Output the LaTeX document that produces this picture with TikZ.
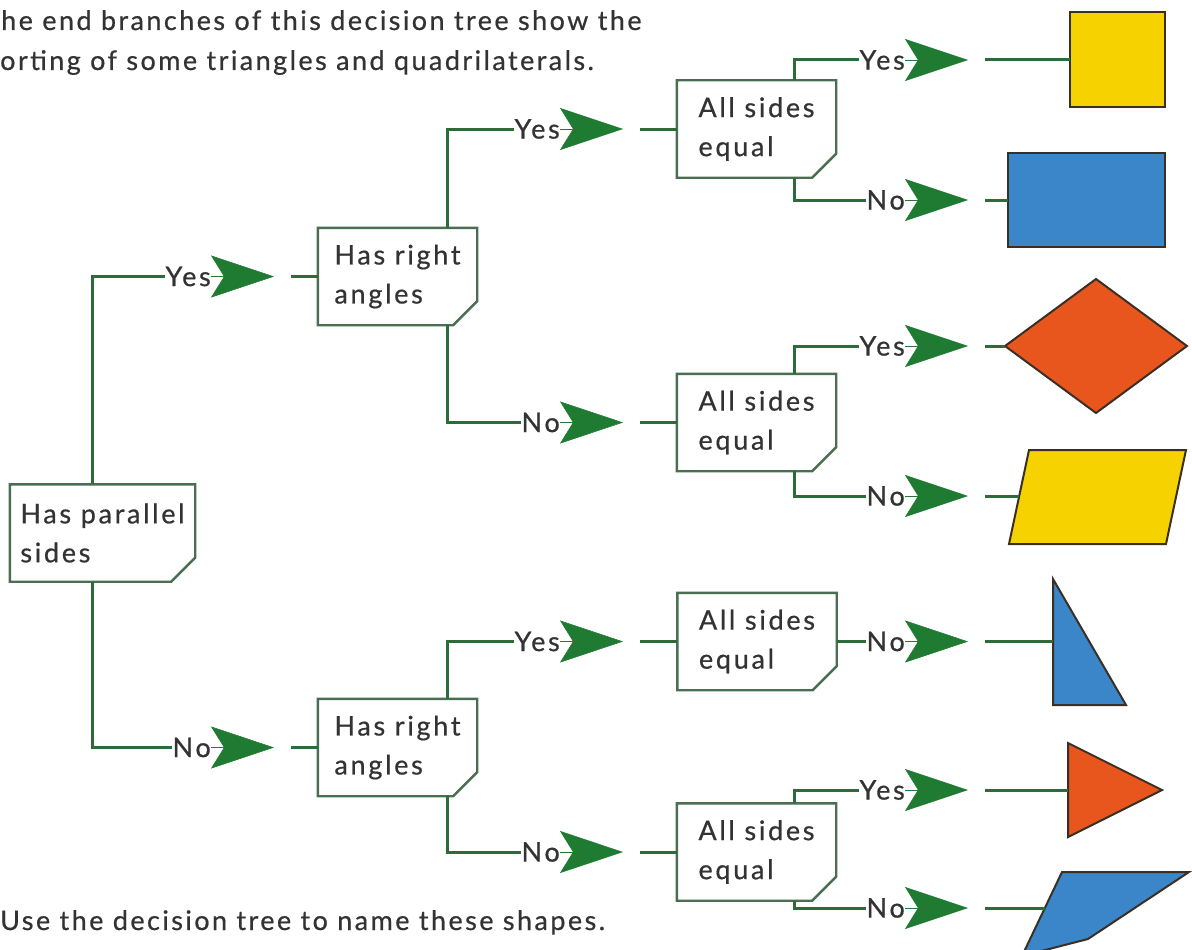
\documentclass[tikz,border=0pt]{standalone}
\usepackage{fontspec}
\setmainfont{Lato}[LetterSpace=10, FakeBold=0.6]
\newfontfamily\headfont{Lato}[LetterSpace=9, FakeBold=0.6]
\usepackage{tikz}
\usetikzlibrary{arrows.meta}

\definecolor{linegreen}{HTML}{2E6B3A}
\definecolor{dartgreen}{HTML}{1F7A32}
\definecolor{boxline}{HTML}{4A6E52}
\definecolor{inkgrey}{HTML}{333333}
\definecolor{shapeyellow}{HTML}{F5D200}
\definecolor{shapeblue}{HTML}{3A86C8}
\definecolor{shapeorange}{HTML}{E8561E}
\definecolor{edgebrown}{HTML}{3A2F25}

\begin{document}
\begin{tikzpicture}[x=1pt,y=-1pt,
  qbox/.style={minimum width=159pt, minimum height=97pt, inner sep=0pt, align=left, fill=white, text=inkgrey, font=\fontsize{27}{39}\selectfont},
  ans/.style={inner sep=0pt, anchor=east, text=inkgrey, font=\fontsize{27}{30}\selectfont},
  note/.style={inner sep=0pt, anchor=base west, text=inkgrey, font=\headfont\fontsize{27}{40}\selectfont},
  link/.style={draw=linegreen, line width=3pt},
  boxedge/.style={draw=boxline, line width=2.4pt},
  dart/.style={draw=dartgreen, line width=0.5pt, -{Stealth[length=63pt, width=42pt, inset=13pt, fill=dartgreen]}},
  shapeedge/.style={draw=edgebrown, line width=2pt, line join=miter}]

\useasboundingbox (0,0) rectangle (1192,950);
\clip (0,0) rectangle (1192,950);

% heading and footing
\node[note] (head1) at (1,30) {he end branches of this decision tree show the};
\node[note] (head2) at (0,70) {orting of some triangles and quadrilaterals.};
\node[note] (foot) at (0,930) {Use the decision tree to name these shapes.};

% columns for labels, dart tips and dashes
\coordinate (lA) at (211,0); \coordinate (kA) at (274,0); \coordinate (dA) at (291,0);
\coordinate (lB) at (560,0); \coordinate (kB) at (623,0); \coordinate (dB) at (640,0);
\coordinate (lC) at (905,0); \coordinate (kC) at (968,0); \coordinate (dC) at (985,0);

% question boxes
\node[qbox, minimum width=185pt] (A) at (102.5,533) {Has parallel\\sides};
\node[qbox] (B1) at (397.5,276.5) {Has right\\angles};
\node[qbox] (B2) at (397.5,747.5) {Has right\\angles};
\node[qbox] (C1) at (756.5,129) {All sides\\equal};
\node[qbox] (C2) at (756.5,422.5) {All sides\\equal};
\node[qbox] (C3) at (757,641.5) {All sides\\equal};
\node[qbox] (C4) at (756.5,852) {All sides\\equal};
\foreach \b in {A,B1,B2,C1,C2,C3,C4}
  \draw[boxedge] (\b.north west) -- (\b.north east) -- ([yshift=24pt]\b.south east)
    -- ([xshift=-24pt]\b.south east) -- (\b.south west) -- cycle;

% end shapes
\coordinate (sq) at (1070,60);
\coordinate (ob) at (1008,200);
\coordinate (rh) at (1005,346);
\coordinate (pg) at (1019,496);
\coordinate (rt) at (1053,641.5);
\coordinate (eq) at (1068,790);
\coordinate (sc) at (1045,908);
\filldraw[shapeedge, fill=shapeyellow] (1070,12) rectangle (1165,107);
\filldraw[shapeedge, fill=shapeblue] (1008,153) rectangle (1165,247);
\filldraw[shapeedge, fill=shapeorange] (rh) -- (1096,279) -- (1187,346) -- (1096,413) -- cycle;
\filldraw[shapeedge, fill=shapeyellow] (1029,450) -- (1186,450) -- (1166,544) -- (1009,544) -- cycle;
\filldraw[shapeedge, fill=shapeblue] (1053,579) -- (1126,705) -- (1053,705) -- cycle;
\filldraw[shapeedge, fill=shapeorange] (1068,743) -- (1162,790) -- (1068,837) -- cycle;
\filldraw[shapeedge, fill=shapeblue] (1062,872) -- (1189,872) -- (1088,939) -- (1022,956) -- cycle;

% first split
\node[ans] (yA) at (lA |- B1.west) {Yes};
\node[ans] (nA) at (lA |- B2.west) {No};
\draw[link] ([xshift=-10pt]A.north) |- (yA.west);
\draw[link] ([xshift=-10pt]A.south) |- (nA.west);
\draw[dart] (yA.east) -- (kA |- yA.east);
\draw[dart] (nA.east) -- (kA |- nA.east);
\draw[link] (dA |- B1.west) -- (B1.west);
\draw[link] (dA |- B2.west) -- (B2.west);

% second split
\node[ans] (yB1) at (lB |- C1.west) {Yes};
\node[ans] (nB1) at (lB |- C2.west) {No};
\node[ans] (yB2) at (lB |- C3.west) {Yes};
\node[ans] (nB2) at (lB |- C4.west) {No};
\draw[link] ([xshift=50pt]B1.north) |- (yB1.west);
\draw[link] ([xshift=50pt]B1.south) |- (nB1.west);
\draw[link] ([xshift=50pt]B2.north) |- (yB2.west);
\draw[link] ([xshift=50pt]B2.south) |- (nB2.west);
\draw[dart] (yB1.east) -- (kB |- yB1.east);
\draw[dart] (nB1.east) -- (kB |- nB1.east);
\draw[dart] (yB2.east) -- (kB |- yB2.east);
\draw[dart] (nB2.east) -- (kB |- nB2.east);
\draw[link] (dB |- C1.west) -- (C1.west);
\draw[link] (dB |- C2.west) -- (C2.west);
\draw[link] (dB |- C3.west) -- (C3.west);
\draw[link] (dB |- C4.west) -- (C4.west);

% third split
\node[ans] (yC1) at (lC |- sq) {Yes};
\node[ans] (nC1) at (lC |- ob) {No};
\node[ans] (yC2) at (lC |- rh) {Yes};
\node[ans] (nC2) at (lC |- pg) {No};
\node[ans] (nC3) at (lC |- rt) {No};
\node[ans] (yC4) at (lC |- eq) {Yes};
\node[ans] (nC4) at (lC |- sc) {No};
\draw[link] ([xshift=37.5pt]C1.north) |- (yC1.west);
\draw[link] ([xshift=37.5pt]C1.south) |- (nC1.west);
\draw[link] ([xshift=37.5pt]C2.north) |- (yC2.west);
\draw[link] ([xshift=37.5pt]C2.south) |- (nC2.west);
\draw[link] (C3.east) -- (nC3.west);
\draw[link] ([xshift=37.5pt]C4.north) |- (yC4.west);
\draw[link] ([xshift=37.5pt]C4.south) |- (nC4.west);
\foreach \t in {yC1,nC1,yC2,nC2,nC3,yC4,nC4}
  \draw[dart] (\t.east) -- (kC |- \t.east);
\draw[link] (dC |- sq) -- (sq);
\draw[link] (dC |- ob) -- (ob);
\draw[link] (dC |- rh) -- (rh);
\draw[link] (dC |- pg) -- (pg);
\draw[link] (dC |- rt) -- (rt);
\draw[link] (dC |- eq) -- (eq);
\draw[link] (dC |- sc) -- (sc);
\end{tikzpicture}
\end{document}
